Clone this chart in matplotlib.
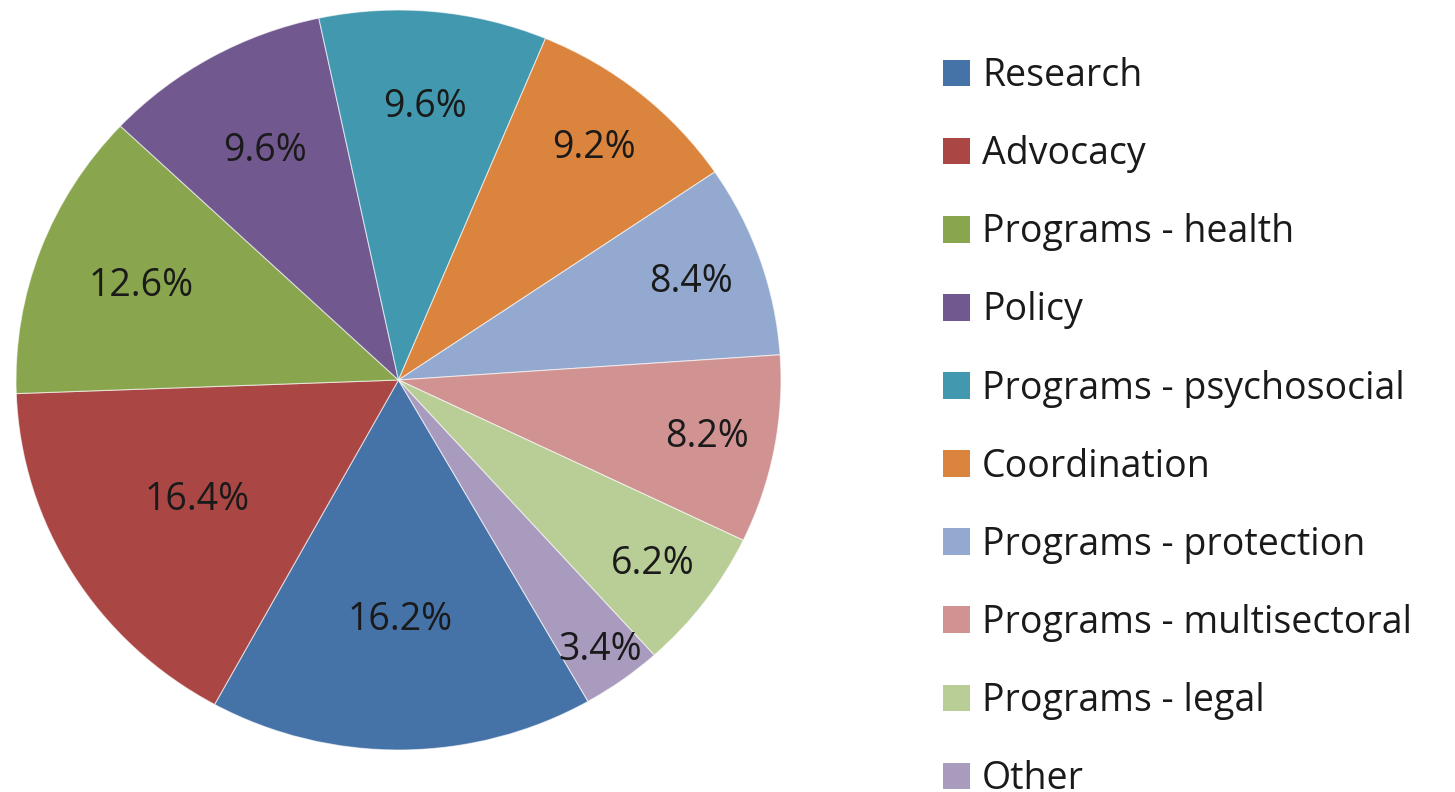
import matplotlib
matplotlib.use("Agg")
import matplotlib.pyplot as plt
import numpy as np

categories = ["Research", "Advocacy", "Programs - health", "Policy",
              "Programs - psychosocial", "Coordination", "Programs - protection",
              "Programs - multisectoral", "Programs - legal", "Other"]
values = [16.2, 16.4, 12.6, 9.6, 9.6, 9.2, 8.4, 8.2, 6.2, 3.4]
colors = ["#4572A7", "#AA4643", "#89A54E", "#71588F", "#4198AF",
          "#DB843D", "#93A9CF", "#D19392", "#B9CD96", "#A99BBD"]
label_dist = [0.65, 0.62, 0.72, 0.71, 0.74, 0.81, 0.81, 0.82, 0.83, 0.90]

plt.rcParams['font.family'] = ['Open Sans', 'DejaVu Sans']

W, H = 1455, 792
fig = plt.figure(figsize=(W / 100, H / 100), dpi=100)
ax = fig.add_axes([16 / W, (H - 750) / H, 765 / W, 740 / H])

wedges, texts = ax.pie(values, colors=colors, startangle=-60.3, counterclock=False,
                       wedgeprops=dict(edgecolor=(1, 1, 1, 0.6), linewidth=0.8))
ax.set_aspect('auto')
ax.set_xlim(-1, 1)
ax.set_ylim(-1, 1)

for w, v, d in zip(wedges, values, label_dist):
    ang = np.deg2rad((w.theta1 + w.theta2) / 2)
    ax.text(d * np.cos(ang), d * np.sin(ang), f"{v:.1f}%", ha='center', va='center',
            fontsize=27, color='#1a1a1a')

handles = [plt.Rectangle((0, 0), 1, 1, facecolor=c, edgecolor='none') for c in colors]
leg = fig.legend(handles, categories, loc='upper left', bbox_to_anchor=(943 / W, 1 - 57 / H),
                 frameon=False, fontsize=27, handlelength=0.72, handleheight=0.72,
                 handletextpad=0.32, labelspacing=1.07, borderaxespad=0, borderpad=0)
for t in leg.get_texts():
    t.set_color('#1a1a1a')

fig.savefig("out.png", dpi=100)
